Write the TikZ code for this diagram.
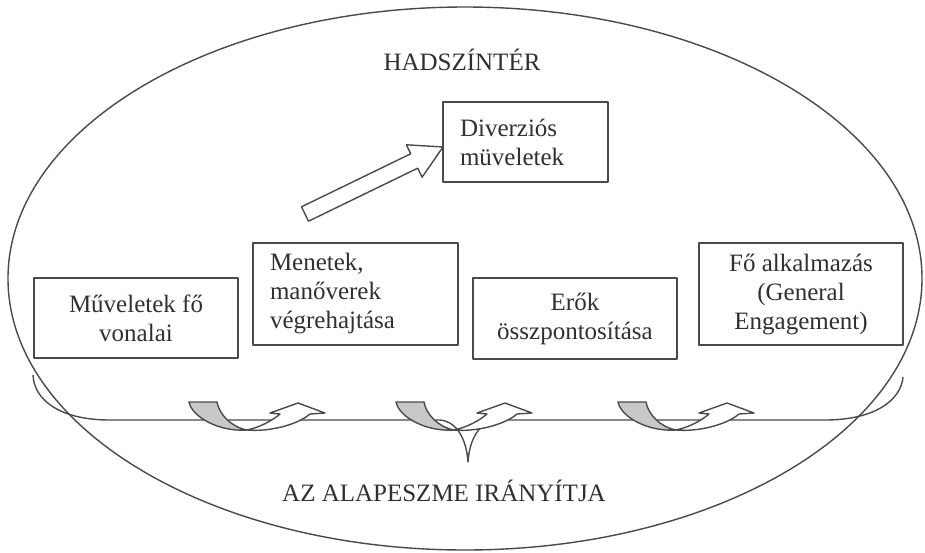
\documentclass[tikz,border=0pt]{standalone}
\usepackage{fontspec}
\setmainfont{Liberation Serif}
\usetikzlibrary{calc}
\definecolor{linegray}{HTML}{4A4A4A}
\definecolor{txtgray}{HTML}{303030}
\definecolor{shade}{HTML}{C8C8C8}
\tikzset{
  boxc/.style={draw=linegray, line width=1.8pt, inner sep=0pt, align=center,
    text=txtgray, font=\fontsize{25}{29}\selectfont},
  boxl/.style={draw=linegray, line width=1.8pt, inner ysep=0pt, inner xsep=17pt, align=left,
    text=txtgray, font=\fontsize{25}{29}\selectfont},
  lbl/.style={text=txtgray, font=\fontsize{25}{29}\selectfont, inner sep=0pt},
  outline/.style={draw=linegray, line width=1.4pt},
  curvarr/.pic={
    \filldraw[outline, fill=white] (58,28) .. controls (80,30) and (108,23) .. (121,12)
      -- (136,11) -- (109,1) -- (81,11) -- (91,12)
      .. controls (84,18) and (72,25) .. (58,28) -- cycle;
    \filldraw[outline, fill=shade] (0,0) -- (28,0) .. controls (30,12) and (42,25) .. (58,28)
      .. controls (30,30) and (3,15) .. (0,0) -- cycle;
  }
}
\begin{document}
\begin{tikzpicture}[x=1pt, y=-1pt, line join=round]
\useasboundingbox (0,0) rectangle (925,552);
% theatre ellipse
\draw[outline] (465,278.5) ellipse [x radius=457, y radius=271.5];
\node[lbl] (theatre) at (462,60) {HADSZÍNTÉR};
% boxes
\node[boxl, text width=131pt, minimum height=80pt] (div) at (525.5,142) {Diverziós\\müveletek};
\node[boxc, minimum width=204pt, minimum height=80pt] (b1) at (136,318) {Műveletek fő\\vonalai};
\node[boxl, text width=171pt, minimum height=102pt] (b2) at (355.5,294) {Menetek,\\manőverek\\végrehajtása};
\node[boxc, minimum width=204pt, minimum height=81pt] (b3) at (575,318.5) {Erők\\összpontosítása};
\node[boxc, minimum width=204pt, minimum height=102pt] (b4) at (801,294) {Fő alkalmazás\\(General\\Engagement)};
% hollow block arrow to the diversion box
\coordinate (atail) at (305,214);
\coordinate (atip) at (443,147);
\coordinate (ahead) at ($(atip)!32pt!(atail)$);
\filldraw[outline, fill=white]
  ($(atail)!8pt!90:(atip)$) -- ($(ahead)!8pt!90:(atip)$) -- ($(ahead)!18pt!90:(atip)$)
  -- (atip) -- ($(ahead)!18pt!-90:(atip)$) -- ($(ahead)!8pt!-90:(atip)$)
  -- ($(atail)!8pt!-90:(atip)$) -- cycle;
% bottom brace
\coordinate (bl) at (33,375);
\coordinate (br) at (903,377);
\coordinate (cusp) at (468,462);
\draw[outline] (bl) .. controls (34,400) and (60,420) .. (110,420) -- (440,420)
  .. controls (460,422) and (467,445) .. (cusp)
  .. controls (469,445) and (476,422) .. (497,420) -- (825,420)
  .. controls (875,420) and (901,400) .. (br);
% curved arrows
\pic at (189,402) {curvarr};
\pic at (396,402) {curvarr};
\pic at (618,402) {curvarr};
\node[lbl] (guide) at (444,491) {AZ ALAPESZME IRÁNYÍTJA};
\end{tikzpicture}
\end{document}
